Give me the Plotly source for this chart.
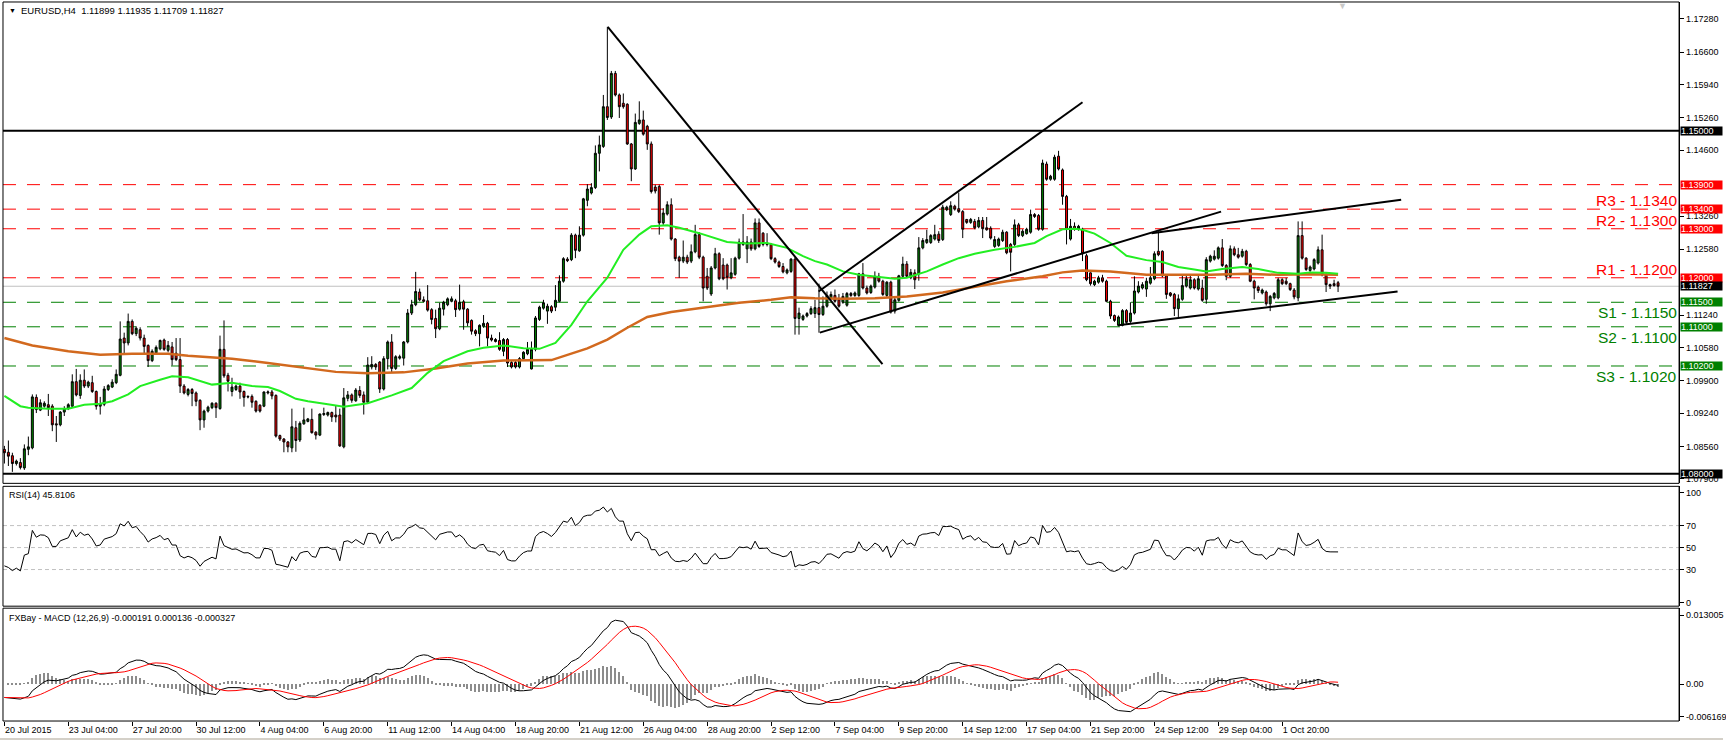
import numpy as np
import pandas as pd
import plotly.graph_objects as go

W, H = 1726, 742

# ---------------- data ----------------
opens = [1.0850,1.0844,1.0837,1.0821,1.0823,1.0812,1.0850,1.0853,1.0956,1.0930,1.0938,1.0941,1.0938,1.0902,1.0900,1.0926,1.0933,1.0938,1.0988,1.0960,
1.0991,1.0979,1.0986,1.0968,1.0938,1.0942,1.0972,1.0977,1.0986,1.1001,1.1077,1.1067,1.1111,1.1086,1.1094,1.1077,1.1062,1.1031,1.1047,1.1055,
1.1073,1.1052,1.1059,1.1046,1.1033,1.0979,1.0962,1.0972,1.0965,1.0950,1.0910,1.0928,1.0935,1.0944,1.0933,1.1054,1.1001,1.0968,1.0972,1.0979,
1.0968,1.0958,1.0958,1.0948,1.0940,1.0938,1.0965,1.0967,1.0960,1.0878,1.0871,1.0865,1.0853,1.0894,1.0869,1.0902,1.0907,1.0911,1.0885,1.0879,
1.0921,1.0920,1.0925,1.0920,1.0920,1.0855,1.0954,1.0961,1.0949,1.0970,1.0961,1.0946,1.1018,1.1023,1.1028,1.0973,1.1035,1.1069,1.1015,1.1036,
1.1036,1.1069,1.1128,1.1145,1.1171,1.1155,1.1153,1.1135,1.1117,1.1096,1.1136,1.1145,1.1152,1.1153,1.1136,1.1151,1.1136,1.1113,1.1092,1.1086,
1.1101,1.1107,1.1077,1.1074,1.1072,1.1050,1.1074,1.1027,1.1027,1.1018,1.1035,1.1045,1.1014,1.1054,1.1115,1.1138,1.1132,1.1141,1.1140,1.1152,
1.1193,1.1238,1.1237,1.1287,1.1255,1.1287,1.1358,1.1373,1.1384,1.1454,1.1468,1.1549,1.1528,1.1617,1.1573,1.1556,1.1554,1.1473,1.1422,1.1515,
1.1522,1.1509,1.1473,1.1385,1.1386,1.1312,1.1330,1.1349,1.1279,1.1242,1.1234,1.1242,1.1234,1.1253,1.1288,1.1242,1.1203,1.1167,1.1220,1.1249,
1.1226,1.1226,1.1200,1.1207,1.1240,1.1273,1.1259,1.1273,1.1259,1.1312,1.1291,1.1271,1.1268,1.1239,1.1232,1.1223,1.1210,1.1213,1.1238,1.1117,
1.1115,1.1122,1.1127,1.1127,1.1139,1.1125,1.1142,1.1159,1.1164,1.1155,1.1150,1.1144,1.1168,1.1164,1.1164,1.1208,1.1179,1.1170,1.1181,1.1203,
1.1193,1.1164,1.1191,1.1132,1.1154,1.1203,1.1228,1.1200,1.1210,1.1208,1.1261,1.1272,1.1272,1.1279,1.1289,1.1278,1.1339,1.1329,1.1346,1.1341,
1.1335,1.1319,1.1313,1.1315,1.1304,1.1317,1.1302,1.1301,1.1264,1.1266,1.1276,1.1293,1.1268,1.1268,1.1308,1.1286,1.1290,1.1293,1.1329,1.1327,
1.1299,1.1432,1.1401,1.1401,1.1448,1.1420,1.1366,1.1279,1.1305,1.1299,1.1299,1.1245,1.1210,1.1186,1.1191,1.1200,1.1193,1.1152,1.1123,1.1103,
1.1103,1.1133,1.1111,1.1128,1.1171,1.1179,1.1177,1.1189,1.1198,1.1254,1.1254,1.1204,1.1169,1.1166,1.1137,1.1156,1.1183,1.1179,1.1196,1.1177,
1.1179,1.1156,1.1234,1.1238,1.1240,1.1261,1.1225,1.1203,1.1259,1.1247,1.1244,1.1254,1.1227,1.1193,1.1181,1.1169,1.1171,1.1147,1.1159,1.1159,
1.1196,1.1193,1.1188,1.1175,1.1159,1.1286,1.1240,1.1215,1.1218,1.1230,1.1257,1.1206,1.1186,1.1188,1.11899]
highs = [1.0857,1.0868,1.0843,1.0829,1.0832,1.0860,1.0876,1.0962,1.0962,1.0952,1.0948,1.0963,1.0942,1.0918,1.0928,1.0938,1.0944,1.1003,1.1014,1.1003,
1.1013,1.0990,1.1000,1.0970,1.0957,1.0979,1.0983,1.0993,1.1013,1.1111,1.1088,1.1127,1.1115,1.1101,1.1099,1.1084,1.1064,1.1054,1.1062,1.1074,
1.1076,1.1071,1.1069,1.1077,1.1077,1.0983,1.0975,1.0975,1.0968,1.0952,1.0931,1.0939,1.0946,1.0946,1.1082,1.1113,1.1006,1.0996,1.0982,1.0986,
1.0970,1.0960,1.0962,1.0950,1.0942,1.0968,1.0970,1.0971,1.0962,1.0880,1.0873,1.0867,1.0933,1.0908,1.0907,1.0935,1.0914,1.0933,1.0887,1.0923,
1.0935,1.0927,1.0927,1.0940,1.0933,1.0975,1.0969,1.0964,1.0975,1.0979,1.0968,1.1038,1.1040,1.1026,1.1030,1.1040,1.1072,1.1085,1.1042,1.1043,
1.1071,1.1136,1.1155,1.1212,1.1178,1.1162,1.1185,1.1138,1.1135,1.1149,1.1153,1.1160,1.1162,1.1157,1.1186,1.1155,1.1138,1.1115,1.1095,1.1105,
1.1124,1.1110,1.1084,1.1077,1.1089,1.1077,1.1077,1.1030,1.1030,1.1038,1.1050,1.1069,1.1070,1.1122,1.1143,1.1155,1.1147,1.1144,1.1185,1.1205,
1.1242,1.1242,1.1291,1.1290,1.1305,1.1363,1.1391,1.1393,1.1470,1.1490,1.1573,1.1712,1.1622,1.1622,1.1576,1.1576,1.1556,1.1475,1.1535,1.1560,
1.1541,1.1512,1.1478,1.1390,1.1390,1.1342,1.1356,1.1362,1.1281,1.1245,1.1276,1.1247,1.1268,1.1308,1.1293,1.1245,1.1220,1.1224,1.1261,1.1252,
1.1240,1.1229,1.1240,1.1243,1.1280,1.1330,1.1285,1.1280,1.1321,1.1321,1.1293,1.1291,1.1271,1.1242,1.1235,1.1230,1.1219,1.1240,1.1242,1.1139,
1.1125,1.1130,1.1142,1.1155,1.1188,1.1162,1.1172,1.1172,1.1176,1.1167,1.1169,1.1171,1.1171,1.1172,1.1210,1.1230,1.1184,1.1186,1.1213,1.1210,
1.1196,1.1193,1.1194,1.1159,1.1206,1.1243,1.1234,1.1218,1.1217,1.1283,1.1281,1.1298,1.1289,1.1308,1.1295,1.1349,1.1347,1.1356,1.1349,1.1374,
1.1338,1.1320,1.1322,1.1320,1.1324,1.1324,1.1324,1.1305,1.1285,1.1282,1.1298,1.1295,1.1271,1.1319,1.1312,1.1299,1.1302,1.1339,1.1332,1.1330,
1.1441,1.1437,1.1410,1.1451,1.1459,1.1423,1.1369,1.1320,1.1313,1.1308,1.1302,1.1249,1.1211,1.1196,1.1204,1.1206,1.1196,1.1155,1.1125,1.1123,
1.1136,1.1136,1.1150,1.1203,1.1193,1.1191,1.1200,1.1222,1.1254,1.1295,1.1256,1.1207,1.1171,1.1169,1.1166,1.1206,1.1206,1.1206,1.1199,1.1206,
1.1196,1.1242,1.1247,1.1256,1.1264,1.1279,1.1228,1.1266,1.1264,1.1261,1.1259,1.1257,1.1230,1.1196,1.1184,1.1178,1.1174,1.1165,1.1171,1.1200,
1.1199,1.1200,1.1190,1.1179,1.1315,1.1315,1.1242,1.1225,1.1240,1.1264,1.1288,1.1210,1.1188,1.1196,1.11935]
lows = [1.0821,1.0816,1.0804,1.0817,1.0809,1.0808,1.0838,1.0850,1.0924,1.0928,1.0935,1.0918,1.0887,1.0865,1.0897,1.0918,1.0930,1.0935,1.0958,1.0953,
1.0975,1.0975,1.0965,1.0931,1.0921,1.0938,1.0969,1.0975,1.0983,1.0999,1.1043,1.1062,1.1083,1.1081,1.1072,1.1045,1.1018,1.1028,1.1044,1.1052,
1.1051,1.1048,1.1021,1.1030,1.0965,1.0962,1.0958,1.0938,1.0938,1.0889,1.0894,1.0925,1.0932,1.0914,1.0931,1.0996,1.0968,1.0958,1.0969,1.0953,
1.0937,1.0954,1.0935,1.0925,1.0925,1.0936,1.0962,1.0952,1.0874,1.0867,1.0844,1.0844,1.0844,1.0845,1.0865,1.0900,1.0905,1.0882,1.0870,1.0877,
1.0918,1.0917,1.0906,1.0905,1.0855,1.0852,1.0948,1.0945,1.0947,1.0955,1.0921,1.0945,1.1013,1.1012,1.0965,1.0970,1.1013,1.1007,1.1012,1.1033,
1.1021,1.1066,1.1124,1.1142,1.1152,1.1150,1.1131,1.1105,1.1077,1.1093,1.1123,1.1142,1.1150,1.1120,1.1133,1.1094,1.1101,1.1084,1.1081,1.1060,
1.1098,1.1060,1.1070,1.1068,1.1051,1.1040,1.1018,1.1015,1.1015,1.1015,1.1033,1.1042,1.1013,1.1050,1.1112,1.1135,1.1106,1.1128,1.1132,1.1150,
1.1190,1.1232,1.1234,1.1240,1.1253,1.1284,1.1346,1.1370,1.1381,1.1417,1.1465,1.1522,1.1524,1.1570,1.1526,1.1545,1.1471,1.1397,1.1420,1.1512,
1.1490,1.1461,1.1372,1.1372,1.1288,1.1308,1.1327,1.1276,1.1234,1.1200,1.1230,1.1228,1.1230,1.1250,1.1238,1.1152,1.1175,1.1163,1.1217,1.1195,
1.1195,1.1176,1.1197,1.1204,1.1237,1.1265,1.1230,1.1255,1.1256,1.1261,1.1264,1.1264,1.1236,1.1229,1.1220,1.1209,1.1207,1.1210,1.1084,1.1084,
1.1112,1.1119,1.1124,1.1118,1.1088,1.1122,1.1139,1.1156,1.1149,1.1139,1.1147,1.1141,1.1161,1.1161,1.1161,1.1176,1.1166,1.1167,1.1178,1.1190,
1.1163,1.1161,1.1127,1.1127,1.1151,1.1200,1.1200,1.1197,1.1177,1.1194,1.1258,1.1269,1.1269,1.1276,1.1271,1.1275,1.1336,1.1326,1.1337,1.1332,
1.1281,1.1310,1.1310,1.1299,1.1301,1.1281,1.1296,1.1278,1.1261,1.1263,1.1273,1.1248,1.1213,1.1265,1.1283,1.1283,1.1288,1.1290,1.1322,1.1296,
1.1296,1.1398,1.1398,1.1398,1.1419,1.1349,1.1268,1.1276,1.1296,1.1296,1.1234,1.1193,1.1184,1.1183,1.1188,1.1190,1.1150,1.1116,1.1110,1.1101,
1.1101,1.1106,1.1108,1.1125,1.1168,1.1176,1.1161,1.1186,1.1195,1.1244,1.1201,1.1157,1.1161,1.1122,1.1120,1.1153,1.1180,1.1176,1.1176,1.1174,
1.1151,1.1147,1.1231,1.1235,1.1237,1.1222,1.1195,1.1200,1.1244,1.1239,1.1241,1.1224,1.1191,1.1156,1.1169,1.1166,1.1143,1.1132,1.1156,1.1156,
1.1185,1.1185,1.1173,1.1156,1.1152,1.1237,1.1214,1.1212,1.1215,1.1227,1.1203,1.1171,1.1177,1.1182,1.11709]
closes = [1.0843,1.0836,1.0821,1.0826,1.0813,1.0851,1.0855,1.0957,1.0931,1.0945,1.0944,1.0935,1.0900,1.0900,1.0926,1.0933,1.0941,1.0988,1.0961,1.0991,
1.0979,1.0987,1.0968,1.0938,1.0943,1.0973,1.0980,1.0987,1.1003,1.1075,1.1067,1.1111,1.1086,1.1097,1.1077,1.1060,1.1031,1.1050,1.1058,1.1072,
1.1054,1.1062,1.1033,1.1033,1.0979,1.0965,1.0972,1.0964,1.0948,1.0910,1.0928,1.0936,1.0944,1.0935,1.1054,1.1000,1.0989,1.0977,1.0979,1.0967,
1.0956,1.0957,1.0946,1.0928,1.0928,1.0967,1.0967,1.0959,1.0877,1.0871,1.0865,1.0855,1.0896,1.0868,1.0903,1.0910,1.0912,1.0884,1.0879,1.0922,
1.0923,1.0925,1.0916,1.0916,1.0857,1.0955,1.0961,1.0950,1.0971,1.0960,1.0946,1.1022,1.1023,1.1018,1.0973,1.1035,1.1069,1.1015,1.1039,1.1039,
1.1069,1.1128,1.1145,1.1172,1.1155,1.1152,1.1134,1.1115,1.1096,1.1138,1.1150,1.1157,1.1157,1.1135,1.1150,1.1136,1.1108,1.1091,1.1086,1.1103,
1.1107,1.1077,1.1073,1.1070,1.1054,1.1074,1.1026,1.1018,1.1018,1.1035,1.1048,1.1054,1.1054,1.1118,1.1140,1.1149,1.1142,1.1132,1.1154,1.1193,
1.1239,1.1235,1.1287,1.1256,1.1287,1.1361,1.1381,1.1384,1.1454,1.1471,1.1549,1.1527,1.1617,1.1573,1.1549,1.1549,1.1473,1.1422,1.1517,1.1522,
1.1493,1.1473,1.1376,1.1377,1.1312,1.1332,1.1349,1.1279,1.1239,1.1234,1.1242,1.1232,1.1253,1.1288,1.1242,1.1179,1.1179,1.1220,1.1249,1.1198,
1.1198,1.1201,1.1210,1.1240,1.1273,1.1268,1.1273,1.1259,1.1312,1.1264,1.1268,1.1268,1.1239,1.1232,1.1223,1.1212,1.1216,1.1238,1.1117,1.1128,
1.1122,1.1127,1.1137,1.1139,1.1125,1.1142,1.1164,1.1166,1.1152,1.1142,1.1162,1.1168,1.1164,1.1169,1.1208,1.1179,1.1169,1.1183,1.1203,1.1193,
1.1166,1.1191,1.1130,1.1155,1.1204,1.1228,1.1203,1.1211,1.1196,1.1261,1.1276,1.1278,1.1286,1.1288,1.1276,1.1344,1.1344,1.1347,1.1340,1.1335,
1.1299,1.1313,1.1319,1.1302,1.1317,1.1300,1.1298,1.1281,1.1278,1.1279,1.1293,1.1251,1.1252,1.1308,1.1286,1.1295,1.1299,1.1329,1.1325,1.1299,
1.1434,1.1401,1.1407,1.1446,1.1422,1.1366,1.1299,1.1305,1.1299,1.1305,1.1249,1.1196,1.1188,1.1193,1.1200,1.1193,1.1152,1.1122,1.1113,1.1120,
1.1133,1.1109,1.1128,1.1173,1.1183,1.1186,1.1193,1.1200,1.1249,1.1247,1.1204,1.1166,1.1164,1.1137,1.1157,1.1184,1.1198,1.1196,1.1179,1.1198,
1.1154,1.1237,1.1244,1.1244,1.1261,1.1225,1.1203,1.1259,1.1247,1.1242,1.1254,1.1227,1.1193,1.1179,1.1174,1.1175,1.1147,1.1162,1.1168,1.1196,
1.1188,1.1188,1.1176,1.1161,1.1286,1.1240,1.1217,1.1222,1.1237,1.1257,1.1206,1.1186,1.1183,1.1184,1.11827]

# moving averages (bar index, value)
ma_fast_idx = [0,4,6,11,16,20,24,27,31,34,39,42,46,49,52,57,62,66,69,73,76,81,85,91,97,102,106,110,116,120,125,130,134,138,142,146,151,155,159,162,
166,169,174,181,186,191,196,200,203,206,210,214,218,223,226,231,235,239,243,248,253,258,261,265,268,270,273,277,281,286,290,294,298,301,305,310,314,319,324,327,331,334]
ma_fast_val = [1.0959,1.0938,1.0935,1.0933,1.0933,1.0941,1.0943,1.0948,1.0962,1.0979,1.0992,1.0999,1.0997,1.0989,1.0982,1.0986,1.0979,1.0977,1.0969,1.0953,
1.0948,1.0942,1.0937,1.0944,1.0960,1.0975,1.1006,1.1030,1.1050,1.1057,1.1062,1.1056,1.1055,1.1067,1.1104,1.1152,1.1200,1.1257,1.1288,1.1305,
1.1307,1.1302,1.1291,1.1273,1.1270,1.1271,1.1261,1.1244,1.1234,1.1227,1.1213,1.1206,1.1203,1.1198,1.1200,1.1213,1.1227,1.1240,1.1249,1.1257,
1.1263,1.1271,1.1285,1.1299,1.1300,1.1298,1.1290,1.1271,1.1245,1.1236,1.1232,1.1222,1.1217,1.1213,1.1218,1.1222,1.1218,1.1210,1.1208,1.1211,1.1210,1.1208]
ma_slow_idx = [0,7,16,24,32,41,46,52,57,66,75,83,91,100,108,116,125,137,146,151,156,161,167,176,184,192,197,203,210,218,226,235,243,251,260,265,270,277,286,294,302,311,319,327,334]
ma_slow_val = [1.1077,1.1062,1.1050,1.1043,1.1045,1.1045,1.1041,1.1037,1.1035,1.1026,1.1016,1.1008,1.1005,1.1007,1.1015,1.1025,1.1031,1.1032,1.1056,1.1074,
1.1098,1.1120,1.1130,1.1140,1.1149,1.1155,1.1160,1.1158,1.1157,1.1158,1.1162,1.1170,1.1181,1.1193,1.1203,1.1211,1.1215,1.1213,1.1206,1.1206,
1.1206,1.1208,1.1206,1.1207,1.1206]

# indicator state at the first visible bar (RSI ~33, MACD ~-0.0025)
rsi_start_gain = 0.0004
rsi_start_loss = 0.0008
ema_fast_start = 1.0870
ema_slow_start = 1.0895

x_tick_idx = [0,16,32,48,64,80,96,112,128,144,160,176,192,208,224,240,256,272,288,304,320]
x_tick_text = ["20 Jul 2015","23 Jul 04:00","27 Jul 20:00","30 Jul 12:00","4 Aug 04:00","6 Aug 20:00","11 Aug 12:00",
               "14 Aug 04:00","18 Aug 20:00","21 Aug 12:00","26 Aug 04:00","28 Aug 20:00","2 Sep 12:00","7 Sep 04:00",
               "9 Sep 20:00","14 Sep 12:00","17 Sep 04:00","21 Sep 20:00","24 Sep 12:00","29 Sep 04:00","1 Oct 20:00"]
price_ticks = [1.1728,1.1660,1.1594,1.1526,1.1460,1.1326,1.1258,1.1124,1.1058,1.0990,1.0924,1.0856,1.0790]
rsi_ticks = [0,30,50,70,100]
rsi_levels = [30,50,70]
macd_ticks = [-0.006169,0.0,0.013005]
macd_tick_text = ["-0.006169","0.00","0.013005"]

resistance_levels = [1.1390,1.1340,1.1300,1.1200]
support_levels = [1.1150,1.1100,1.1020]
major_levels = [1.1500,1.0800]
current_price = 1.11827
r_labels = [("R3 - 1.1340",1.1340),("R2 - 1.1300",1.1300),("R1 - 1.1200",1.1200)]
s_labels = [("S1 - 1.1150",1.1150),("S2 - 1.1100",1.1100),("S3 - 1.1020",1.1020)]
box_levels = [1.15000,1.13900,1.13400,1.13000,1.12000,1.11827,1.11500,1.11000,1.10200,1.08000]
box_kind = ["k","r","r","r","r","k","g","g","g","k"]

# analyst trend lines: (bar0, price0, bar1, price1)
trend_lines = [(151.1,1.1712,219.9,1.1024),
               (203.9,1.1172,270.0,1.1558),
               (204.2,1.1088,304.7,1.1335),
               (287.3,1.1291,349.8,1.1359),
               (278.9,1.1103,348.9,1.1172)]

header_text = "EURUSD,H4\u00a0\u00a01.11899 1.11935 1.11709 1.11827"
rsi_text = "RSI(14) 45.8106"
macd_text = "FXBay - MACD (12,26,9) -0.000191 0.000136 -0.000327"

# ---------------- indicators derived from the closes ----------------
idx = np.arange(len(closes))
rsi = []
ag, al = rsi_start_gain, rsi_start_loss
prev = None
for cl in closes:
    if prev is not None:
        ch = cl - prev
        ag = ag + (max(ch, 0.0) - ag) / 14.0
        al = al + (max(-ch, 0.0) - al) / 14.0
    rsi.append(100.0 - 100.0 / (1.0 + ag / al))
    prev = cl

e12, e26 = ema_fast_start, ema_slow_start
macd = []
for cl in closes:
    e12 = e12 + (cl - e12) * 2.0 / 13.0
    e26 = e26 + (cl - e26) * 2.0 / 27.0
    macd.append(e12 - e26)
macd = pd.Series(macd)
signal = macd.rolling(9, min_periods=1).mean()
hist = macd - signal

# ---------------- layout geometry (pixels) ----------------
def px(x):
    return x / W

def py(y):
    return 1 - y / H

X_L, X_R = 3, 1682
MAIN_T, MAIN_B = 2, 484
RSI_T, RSI_B = 487, 607
MACD_T, MACD_B = 609, 722

FONT = "Liberation Sans, Arial, sans-serif"
GREEN = "#008000"
RED = "#ff0000"

fig = go.Figure()

fig.add_trace(go.Candlestick(
    x=idx, open=opens, high=highs, low=lows, close=closes,
    increasing=dict(line=dict(color="black", width=1), fillcolor=GREEN),
    decreasing=dict(line=dict(color="black", width=1), fillcolor=RED),
    whiskerwidth=0, xaxis="x", yaxis="y", hoverinfo="skip", showlegend=False))

fig.add_trace(go.Scatter(x=ma_slow_idx, y=ma_slow_val, mode="lines",
                         line=dict(color="#d2691e", width=2.5), xaxis="x", yaxis="y",
                         hoverinfo="skip", showlegend=False))
fig.add_trace(go.Scatter(x=ma_fast_idx, y=ma_fast_val, mode="lines",
                         line=dict(color="#22ee22", width=2), xaxis="x", yaxis="y",
                         hoverinfo="skip", showlegend=False))

fig.add_trace(go.Scatter(x=idx, y=rsi, mode="lines", line=dict(color="black", width=1),
                         xaxis="x", yaxis="y2", hoverinfo="skip", showlegend=False))

fig.add_trace(go.Bar(x=idx, y=hist, width=0.3, marker=dict(color="#8c8c8c", line=dict(width=0)),
                     xaxis="x", yaxis="y3", hoverinfo="skip", showlegend=False))
fig.add_trace(go.Scatter(x=idx, y=macd, mode="lines", line=dict(color="black", width=1),
                         xaxis="x", yaxis="y3", hoverinfo="skip", showlegend=False))
fig.add_trace(go.Scatter(x=idx, y=signal, mode="lines", line=dict(color=RED, width=1),
                         xaxis="x", yaxis="y3", hoverinfo="skip", showlegend=False))

shapes = []
for lv in resistance_levels:
    shapes.append(dict(type="line", xref="paper", yref="y", x0=px(X_L), x1=px(X_R), y0=lv, y1=lv,
                       line=dict(color=RED, width=1, dash="13px,11px"), layer="below"))
for lv in support_levels:
    shapes.append(dict(type="line", xref="paper", yref="y", x0=px(X_L), x1=px(X_R), y0=lv, y1=lv,
                       line=dict(color=GREEN, width=1, dash="13px,11px"), layer="below"))
for lv in major_levels:
    shapes.append(dict(type="line", xref="paper", yref="y", x0=px(X_L), x1=px(X_R), y0=lv, y1=lv,
                       line=dict(color="black", width=2), layer="below"))
shapes.append(dict(type="line", xref="paper", yref="y", x0=px(X_L), x1=px(X_R), y0=current_price, y1=current_price,
                   line=dict(color="#c0c0c0", width=1), layer="below"))
for lv in rsi_levels:
    shapes.append(dict(type="line", xref="paper", yref="y2", x0=px(X_L), x1=px(X_R), y0=lv, y1=lv,
                       line=dict(color="#c0c0c0", width=1, dash="4px,3px"), layer="below"))
for (b0, p0, b1, p1) in trend_lines:
    shapes.append(dict(type="line", xref="x", yref="y", x0=b0, y0=p0, x1=b1, y1=p1,
                       line=dict(color="black", width=2)))
for (t, b) in [(MAIN_T, MAIN_B), (RSI_T, RSI_B), (MACD_T, MACD_B)]:
    shapes.append(dict(type="rect", xref="paper", yref="paper", x0=px(X_L), x1=px(X_R), y0=py(b), y1=py(t),
                       line=dict(color="black", width=1), fillcolor="rgba(0,0,0,0)"))
shapes.append(dict(type="line", xref="paper", yref="paper", x0=0, x1=1, y0=py(740), y1=py(740),
                   line=dict(color="#d4d0c8", width=2)))

ann = []
for txt, lv in r_labels:
    ann.append(dict(text=txt, xref="paper", yref="y", x=px(1681), y=lv, xanchor="right", yanchor="bottom",
                    showarrow=False, font=dict(family=FONT, size=15.5, color=RED), borderpad=0, yshift=-1))
for txt, lv in s_labels:
    ann.append(dict(text=txt, xref="paper", yref="y", x=px(1681), y=lv, xanchor="right", yanchor="top",
                    showarrow=False, font=dict(family=FONT, size=15.5, color=GREEN), borderpad=0, yshift=-1))
colmap = {"k": "black", "r": RED, "g": GREEN}
for lv, k in zip(box_levels, box_kind):
    ann.append(dict(text="%.5f" % lv, xref="paper", yref="y", x=px(1683), y=lv, xanchor="left", yanchor="middle",
                    showarrow=False, bgcolor=colmap[k], font=dict(family=FONT, size=9, color="white"),
                    borderpad=0, width=41, height=8, align="left"))
ann.append(dict(text="\u25bc", xref="paper", yref="paper", x=px(7), y=py(11), xanchor="left", yanchor="middle",
                showarrow=False, font=dict(family=FONT, size=7, color="black")))
ann.append(dict(text=header_text, xref="paper", yref="paper", x=px(19), y=py(11), xanchor="left", yanchor="middle",
                showarrow=False, font=dict(family=FONT, size=9.5, color="black")))
ann.append(dict(text=rsi_text, xref="paper", yref="paper", x=px(7), y=py(496), xanchor="left", yanchor="middle",
                showarrow=False, font=dict(family=FONT, size=9, color="black")))
ann.append(dict(text=macd_text, xref="paper", yref="paper", x=px(7), y=py(619), xanchor="left", yanchor="middle",
                showarrow=False, font=dict(family=FONT, size=9, color="black")))
ann.append(dict(text="\u25bc", xref="paper", yref="paper", x=px(1345), y=py(6), xanchor="center", yanchor="middle",
                showarrow=False, font=dict(family=FONT, size=9, color="#c8c8c8")))

axis_common = dict(showgrid=False, zeroline=False, side="right", anchor="x", ticks="outside", ticklen=4,
                   tickcolor="black", showline=True, linecolor="black", linewidth=1,
                   tickfont=dict(family=FONT, size=9, color="black"))

fig.update_layout(
    width=W, height=H, margin=dict(l=0, r=0, t=0, b=0),
    paper_bgcolor="white", plot_bgcolor="white", showlegend=False, bargap=0,
    xaxis=dict(domain=[px(X_L), px(X_R)], range=[-0.35, 419.4], anchor="y3", showgrid=False, zeroline=False,
               showline=False, tickvals=x_tick_idx, ticktext=x_tick_text, ticks="outside", ticklen=4,
               tickcolor="black", ticklabelposition="outside right",
               tickfont=dict(family=FONT, size=9, color="black"), rangeslider=dict(visible=False)),
    yaxis=dict(domain=[py(MAIN_B), py(MAIN_T)], range=[1.078057, 1.176264], tickvals=price_ticks,
               ticktext=["%.5f" % v for v in price_ticks], **axis_common),
    yaxis2=dict(domain=[py(RSI_B), py(RSI_T)], range=[-3.36, 105.73], tickvals=rsi_ticks,
                ticktext=[str(v) for v in rsi_ticks], **axis_common),
    yaxis3=dict(domain=[py(MACD_B), py(MACD_T)], range=[-0.006974, 0.014324], tickvals=macd_ticks,
                ticktext=macd_tick_text, **axis_common),
    shapes=shapes, annotations=ann,
)

fig.write_html("out.html", config={"displayModeBar": False})
